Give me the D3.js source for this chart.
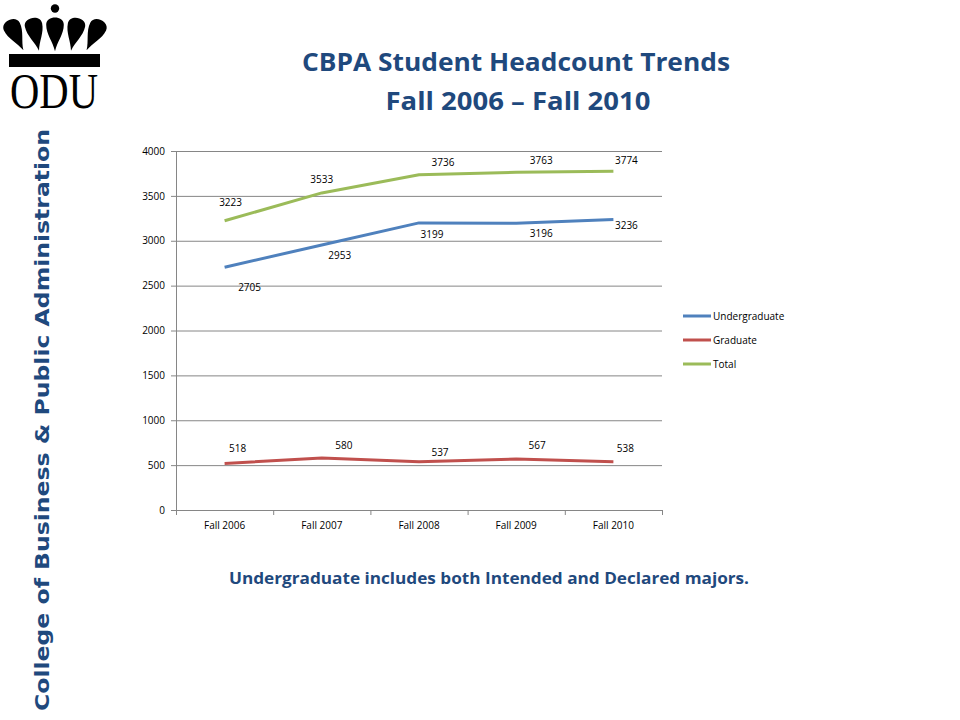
<!DOCTYPE html>
<html>
<head>
<meta charset="utf-8">
<script src="https://cdn.jsdelivr.net/npm/d3@7"></script>
<style>
  body { margin: 0; background: #fff; }
  svg { display: block; }
</style>
</head>
<body>
<svg id="chart" width="960" height="720"></svg>
<script>
const categories = ['Fall 2006', 'Fall 2007', 'Fall 2008', 'Fall 2009', 'Fall 2010'];
const undergraduate = [2705, 2953, 3199, 3196, 3236];
const graduate = [518, 580, 537, 567, 538];
const total = [3223, 3533, 3736, 3763, 3774];
const yTicks = [0, 500, 1000, 1500, 2000, 2500, 3000, 3500, 4000];

// label nudges (px) so data labels sit as in the original slide
const labelOffsets = {
  Undergraduate: [[25, 20], [18, 11], [13, 12], [25, 10], [13, 6]],
  Graduate: [[13, -15], [22, -12], [21, -9], [21, -14], [12, -13]],
  Total: [[6, -18], [0, -13], [24, -12], [25, -12], [13, -11]]
};

const series = [
  { name: 'Undergraduate', values: undergraduate, color: '#4F81BD' },
  { name: 'Graduate', values: graduate, color: '#C0504D' },
  { name: 'Total', values: total, color: '#9BBB59' }
];

const svg = d3.select('#chart');
const navy = '#1F497D';
const font = "'Open Sans', 'Liberation Sans', sans-serif";

// Logo
const logo = svg.append('g');
logo.append('circle').attr('cx', 55).attr('cy', 8.5).attr('r', 4.2).attr('fill', '#000');
const drop = 'M -8 -6 C -8 -14, 8 -14, 8 -6 C 8 2, 2 8, 0 16 C -2 8, -8 2, -8 -6 Z';
[[15, 33, -26], [35, 32, -12], [55, 32, 0], [75, 32, 12], [95, 33, 26]].forEach(([x, y, r]) => {
  logo.append('path')
    .attr('d', drop)
    .attr('transform', `translate(${x},${y}) rotate(${r}) scale(1.1,1.2)`)
    .attr('fill', '#000');
});
logo.append('rect').attr('x', 9).attr('y', 54).attr('width', 91).attr('height', 13).attr('fill', '#000');
logo.append('text')
  .attr('x', 54).attr('y', 108)
  .attr('text-anchor', 'middle')
  .attr('font-family', "'Liberation Serif', 'DejaVu Serif', serif")
  .attr('font-size', 50)
  .attr('textLength', 88)
  .attr('lengthAdjust', 'spacingAndGlyphs')
  .attr('fill', '#000')
  .text('ODU');

// Vertical side title
svg.append('text')
  .attr('transform', 'translate(49,420) rotate(-90)')
  .attr('text-anchor', 'middle')
  .attr('font-family', "'DejaVu Sans', Verdana, sans-serif")
  .attr('font-weight', 'bold')
  .attr('font-size', 20)
  .attr('textLength', 582)
  .attr('lengthAdjust', 'spacingAndGlyphs')
  .attr('fill', navy)
  .text('College of Business & Public Administration');

// Title
const title = svg.append('text')
  .attr('text-anchor', 'middle')
  .attr('font-family', font)
  .attr('font-weight', 'bold')
  .attr('font-size', 25)
  .attr('fill', navy);
title.append('tspan').attr('x', 516).attr('y', 71).attr('textLength', 428).attr('lengthAdjust', 'spacingAndGlyphs')
  .text('CBPA Student Headcount Trends');
title.append('tspan').attr('x', 518).attr('y', 110).attr('textLength', 265).attr('lengthAdjust', 'spacingAndGlyphs')
  .text('Fall 2006 \u2013 Fall 2010');

// Footnote
svg.append('text')
  .attr('x', 489).attr('y', 584)
  .attr('text-anchor', 'middle')
  .attr('font-family', font)
  .attr('font-weight', 'bold')
  .attr('font-size', 16)
  .attr('textLength', 520)
  .attr('lengthAdjust', 'spacingAndGlyphs')
  .attr('fill', navy)
  .text('Undergraduate includes both Intended and Declared majors.');

// Chart
const margin = { top: 151, left: 176 };
const innerWidth = 486;
const innerHeight = 359;

const g = svg.append('g').attr('transform', `translate(${margin.left},${margin.top})`);

const x = d3.scaleBand().domain(categories).range([0, innerWidth]);
const y = d3.scaleLinear().domain([0, 4000]).range([innerHeight, 0]);

// Grid
g.append('g')
  .call(d3.axisLeft(y).tickValues(yTicks).tickSize(-innerWidth).tickFormat(''))
  .call(s => s.select('.domain').remove())
  .selectAll('line')
  .attr('stroke', '#868686')
  .attr('stroke-width', 1);

// Y axis
const yAxis = g.append('g')
  .call(d3.axisLeft(y).tickValues(yTicks).tickSize(5).tickPadding(6).tickFormat(d => String(d)));
yAxis.select('.domain').attr('stroke', '#868686');
yAxis.selectAll('line').attr('stroke', '#868686');
yAxis.selectAll('text')
  .attr('font-family', font)
  .attr('font-size', 10)
  .attr('fill', '#000');

// X axis
const xAxis = g.append('g')
  .attr('transform', `translate(0,${innerHeight})`)
  .call(d3.axisBottom(x).tickSize(0).tickPadding(12));
xAxis.select('.domain').attr('stroke', '#868686');
xAxis.selectAll('text')
  .attr('font-family', font)
  .attr('font-size', 10)
  .attr('fill', '#000');
// category boundary ticks
xAxis.selectAll('.bound')
  .data(categories.concat(['end']))
  .enter()
  .append('line')
  .attr('class', 'bound')
  .attr('x1', (d, i) => x.step() * i + 0.5)
  .attr('x2', (d, i) => x.step() * i + 0.5)
  .attr('y1', 0)
  .attr('y2', 5)
  .attr('stroke', '#868686');

const line = d3.line()
  .x((d, i) => x(categories[i]) + x.bandwidth() / 2)
  .y(d => y(d));

series.forEach(s => {
  g.append('path')
    .datum(s.values)
    .attr('fill', 'none')
    .attr('stroke', s.color)
    .attr('stroke-width', 3)
    .attr('stroke-linejoin', 'round')
    .attr('d', line);

  g.selectAll(null)
    .data(s.values)
    .enter()
    .append('text')
    .attr('x', (d, i) => x(categories[i]) + x.bandwidth() / 2 + labelOffsets[s.name][i][0])
    .attr('y', (d, i) => y(d) + labelOffsets[s.name][i][1])
    .attr('dy', '0.35em')
    .attr('text-anchor', 'middle')
    .attr('font-family', font)
    .attr('font-size', 10)
    .attr('fill', '#000')
    .text(d => d);
});

// Legend
const legend = svg.append('g').attr('transform', 'translate(683,316)');
series.forEach((s, i) => {
  const item = legend.append('g').attr('transform', `translate(0,${i * 24})`);
  item.append('line')
    .attr('x1', 0).attr('x2', 28)
    .attr('y1', 0).attr('y2', 0)
    .attr('stroke', s.color)
    .attr('stroke-width', 3);
  item.append('text')
    .attr('x', 30)
    .attr('y', 0)
    .attr('dy', '0.35em')
    .attr('font-family', font)
    .attr('font-size', 10)
    .attr('fill', '#000')
    .text(s.name);
});
</script>
</body>
</html>
